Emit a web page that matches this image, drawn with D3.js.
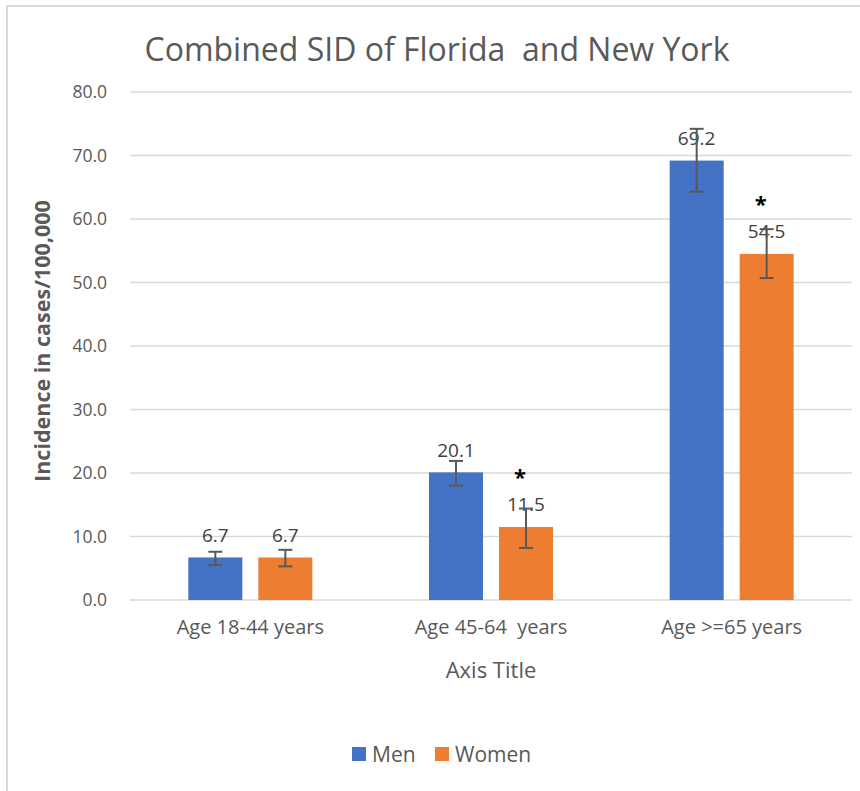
<!DOCTYPE html>
<html><head><meta charset="utf-8">
<script src="https://cdn.jsdelivr.net/npm/d3@7"></script>
<style>body{margin:0;background:#fff;} svg{display:block;font-family:"Open Sans",sans-serif;}</style>
</head><body>
<script>
const categories = ["Age 18-44 years", "Age 45-64  years", "Age >=65 years"];
const seriesNames = ["Men", "Women"];
const menValues = [6.7, 20.1, 69.2];
const womenValues = [6.7, 11.5, 54.5];
const menLow = [5.5, 18.0, 64.3];
const menHigh = [7.6, 21.9, 74.2];
const womenLow = [5.3, 8.2, 50.7];
const womenHigh = [7.9, 14.4, 58.4];
const womenSignificant = [false, true, true];
const yTicks = [0, 10, 20, 30, 40, 50, 60, 70, 80];
const colors = ["#4472C4", "#ED7D31"];

(function () {
const W = 860, H = 791;
const svg = d3.select("body").append("svg").attr("width", W).attr("height", H);
svg.append("rect").attr("x", 7).attr("y", 6).attr("width", W + 10).attr("height", H + 10)
  .attr("fill", "#fff").attr("stroke", "#d9d9d9").attr("stroke-width", 2);

const pLeft = 130, pRight = 852, pTop = 92, pBottom = 600;
const y = d3.scaleLinear().domain([0, 80]).range([pBottom, pTop]);
const x0 = d3.scaleBand().domain(categories).range([pLeft, pRight]).paddingInner(0).paddingOuter(0);
const bw = 54, gap = 16;
const x1 = d3.scaleOrdinal().domain(seriesNames).range([-(gap / 2 + bw), gap / 2]);

svg.append("g").selectAll("line").data(yTicks).join("line")
  .attr("x1", pLeft).attr("x2", pRight).attr("y1", d => y(d)).attr("y2", d => y(d))
  .attr("stroke", "#d9d9d9").attr("stroke-width", 1.5);

const yAxis = d3.axisLeft(y).tickValues(yTicks).tickFormat(d3.format(".1f")).tickSize(0).tickPadding(0);
const ya = svg.append("g").attr("transform", `translate(107,0)`).call(yAxis);
ya.select(".domain").remove();
ya.selectAll("text").attr("font-size", 17.5).attr("fill", "#595959").attr("font-family", "Open Sans");

const xAxis = d3.axisBottom(x0).tickSize(0).tickPadding(0);
const xa = svg.append("g").attr("transform", `translate(0,${pBottom + 20})`).call(xAxis);
xa.select(".domain").remove();
xa.selectAll("text").attr("font-size", 20).attr("fill", "#595959").attr("font-family", "Open Sans")
  .style("white-space", "pre");

const data = categories.map((c, i) => ({c, i, vals: [
  {s: "Men", v: menValues[i], lo: menLow[i], hi: menHigh[i], sig: false, k: 0},
  {s: "Women", v: womenValues[i], lo: womenLow[i], hi: womenHigh[i], sig: womenSignificant[i], k: 1}
]}));

const g = svg.append("g").selectAll("g").data(data).join("g")
  .attr("transform", d => `translate(${x0(d.c) + x0.bandwidth() / 2},0)`);

const items = g.selectAll("g").data(d => d.vals).join("g")
  .attr("transform", d => `translate(${x1(d.s)},0)`);

items.append("rect").attr("x", 0).attr("width", bw)
  .attr("y", d => y(d.v)).attr("height", d => y(0) - y(d.v))
  .attr("fill", d => colors[d.k]);

items.append("text").attr("x", bw / 2).attr("y", d => y(d.v) - 15.5)
  .attr("text-anchor", "middle").attr("font-size", 19).attr("fill", "#404040")
  .text(d => d3.format(".1f")(d.v));

items.append("line").attr("x1", bw / 2).attr("x2", bw / 2)
  .attr("y1", d => y(d.lo)).attr("y2", d => y(d.hi)).attr("stroke", "#595959").attr("stroke-width", 2);
items.append("line").attr("x1", bw / 2 - 7).attr("x2", bw / 2 + 7)
  .attr("y1", d => y(d.lo)).attr("y2", d => y(d.lo)).attr("stroke", "#595959").attr("stroke-width", 2);
items.append("line").attr("x1", bw / 2 - 7).attr("x2", bw / 2 + 7)
  .attr("y1", d => y(d.hi)).attr("y2", d => y(d.hi)).attr("stroke", "#595959").attr("stroke-width", 2);

items.filter(d => d.sig).append("text").attr("x", bw / 2 - 6).attr("y", d => y(d.v) - 42)
  .attr("text-anchor", "middle").attr("font-size", 22).attr("font-weight", "bold").attr("fill", "#000")
  .text("*");

svg.append("text").attr("x", 437).attr("y", 61).attr("text-anchor", "middle")
  .attr("font-size", 32).attr("fill", "#595959").style("white-space", "pre")
  .text("Combined SID of Florida  and New York");

svg.append("text").attr("transform", "translate(50,341) rotate(-90)").attr("text-anchor", "middle")
  .attr("font-size", 21.5).attr("font-weight", "bold").attr("fill", "#595959").text("Incidence in cases/100,000");

svg.append("text").attr("x", 491).attr("y", 678).attr("text-anchor", "middle")
  .attr("font-size", 22).attr("fill", "#595959").text("Axis Title");

const leg = svg.append("g").selectAll("g").data(seriesNames).join("g")
  .attr("transform", (d, i) => `translate(${[352, 435][i]},747)`);
leg.append("rect").attr("width", 14).attr("height", 14).attr("fill", (d, i) => colors[i]);
leg.append("text").attr("x", 20).attr("y", 15).attr("font-size", 21).attr("fill", "#595959").text(d => d);
})();
</script>
</body></html>
